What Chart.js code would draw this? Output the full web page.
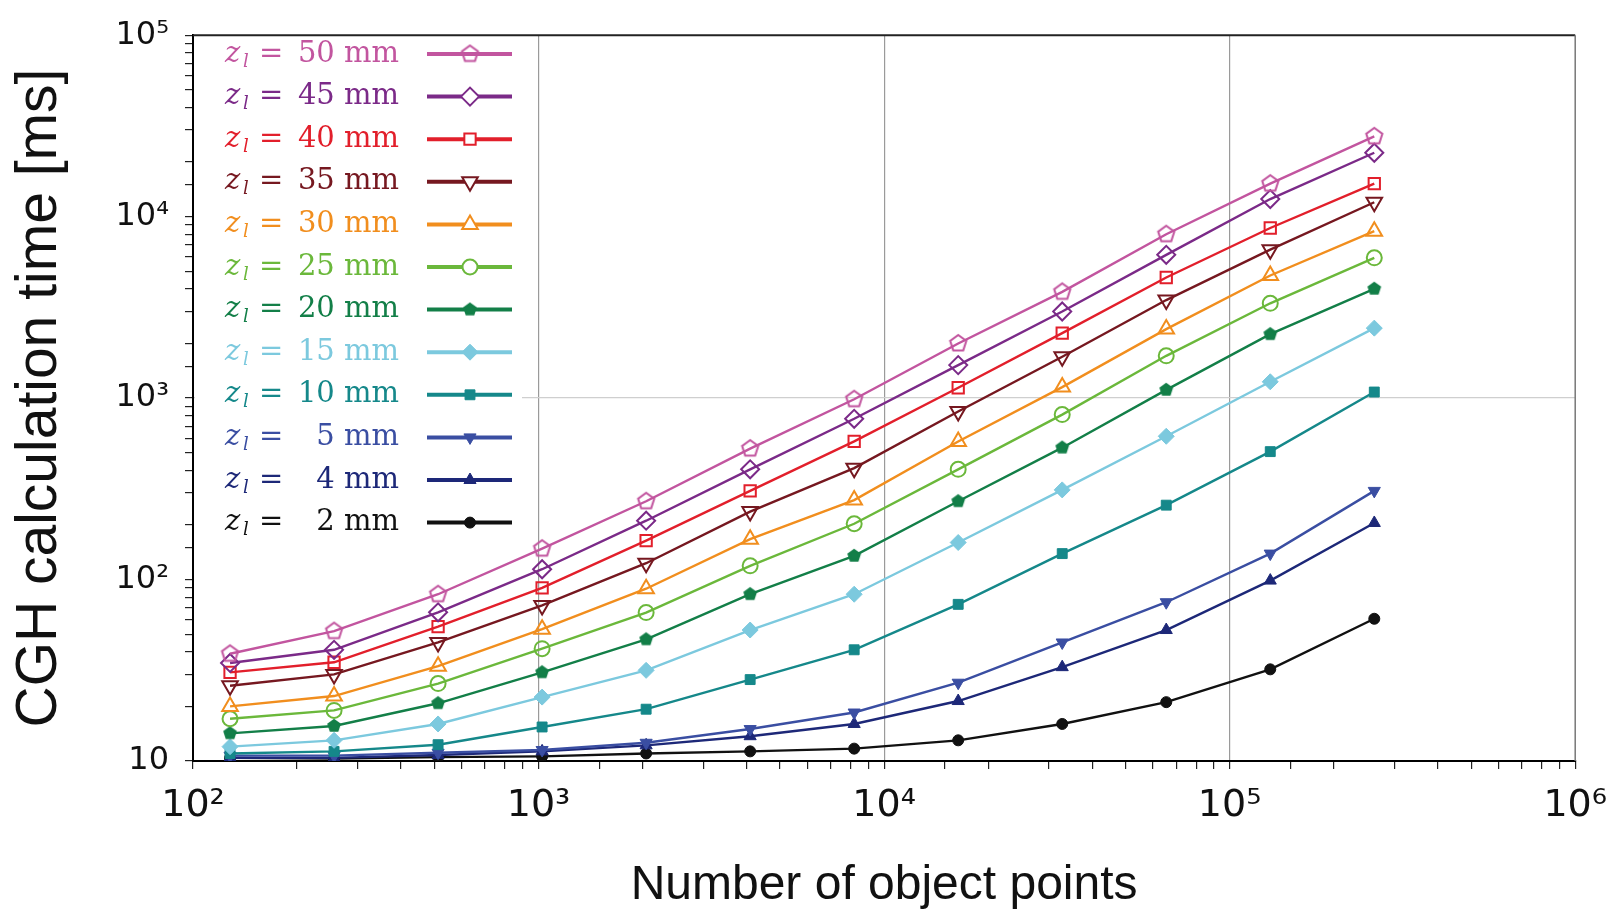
<!DOCTYPE html>
<html>
<head>
<meta charset="utf-8">
<script src="https://cdn.jsdelivr.net/npm/chart.js@4"></script>
<style>
  html, body { margin: 0; padding: 0; background: #fff; }
  #wrap { width: 1621px; height: 919px; position: relative; }
</style>
</head>
<body>
<div id="wrap"><canvas id="cghChart"></canvas></div>
<script>
// number of object points (x)
const POINTS = [128, 256, 512, 1024, 2048, 4096, 8192, 16384, 32768, 65536, 131072, 262144];

// calculation time [ms] per z_l
const T50 = [39, 52, 83, 148, 270, 527, 986, 2000, 3850, 8000, 15200, 27700];
const T45 = [34.7, 41, 66, 114, 211, 405, 769, 1520, 3000, 6160, 12500, 22500];
const T40 = [30.8, 35, 55, 90, 164, 308, 577, 1140, 2280, 4620, 8660, 15200];
const T35 = [26, 30, 45, 72, 123, 237, 411, 843, 1690, 3470, 6580, 12000];
const T30 = [20, 22.8, 33.3, 53.3, 89, 167, 274, 577, 1150, 2400, 4740, 8320];
const T25 = [17.1, 19, 26.7, 41.6, 65.8, 119, 203, 405, 811, 1710, 3330, 5930];
const T20 = [14.2, 15.6, 20.8, 30.8, 46.8, 83, 135, 270, 533, 1110, 2250, 4000];
const T15 = [12, 13, 16, 22.5, 31.6, 52.7, 83, 160, 312, 616, 1230, 2430];
const T10 = [11, 11.3, 12.3, 15.4, 19.3, 28.1, 41, 73, 139, 257, 507, 1080];
const T5 = [10.7, 10.7, 11.1, 11.5, 12.6, 15, 18.5, 27, 45, 75, 139, 308];
const T4 = [10.4, 10.4, 10.8, 11.3, 12.2, 13.7, 16, 21.4, 32.9, 52.7, 98.7, 205];
const T2 = [10.4, 10.3, 10.5, 10.6, 11, 11.3, 11.7, 13, 16, 21.1, 32, 60.8];

const ZL = ["50", "45", "40", "35", "30", "25", "20", "15", "10", "5", "4", "2"];

const SUP = { "2": "\u00b2", "3": "\u00b3", "4": "\u2074", "5": "\u2075", "6": "\u2076" };

function pentagon(color, filled, r) {
    var c = document.createElement("canvas");
    var s = Math.ceil(r * 2 + 4);
    c.width = s; c.height = s;
    var g = c.getContext("2d");
    g.beginPath();
    for (var k = 0; k < 5; k++) {
        var a = -Math.PI / 2 + k * 2 * Math.PI / 5;
        var px = s / 2 + r * Math.cos(a), py = s / 2 + r * Math.sin(a);
        if (k == 0) g.moveTo(px, py); else g.lineTo(px, py);
    }
    g.closePath();
    if (filled) { g.fillStyle = color; g.fill(); }
    g.lineWidth = 2;
    g.strokeStyle = color;
    g.stroke();
    return c;
}

const STYLE = [
    { color: "#c2559f", marker: pentagon("#c2559f", false, 8.5), radius: 9, open: true },
    { color: "#7b2a88", marker: "rectRot", radius: 9, open: true },
    { color: "#e21f2b", marker: "rect", radius: 8, open: true },
    { color: "#761820", marker: "triangle", rotation: 180, radius: 9, open: true },
    { color: "#f18e1e", marker: "triangle", radius: 9, open: true },
    { color: "#6bb83b", marker: "circle", radius: 7.5, open: true },
    { color: "#137f48", marker: pentagon("#137f48", true, 6), radius: 6, open: false },
    { color: "#7cc9de", marker: "rectRot", radius: 8, open: false },
    { color: "#15888a", marker: "rect", radius: 7, open: false },
    { color: "#3a4ea2", marker: "triangle", rotation: 180, radius: 7, open: false },
    { color: "#1d2878", marker: "triangle", radius: 7, open: false },
    { color: "#111111", marker: "circle", radius: 5.5, open: false }
];

const SERIES = [T50, T45, T40, T35, T30, T25, T20, T15, T10, T5, T4, T2];

const datasets = SERIES.map(function (vals, i) {
    var st = STYLE[i];
    return {
        label: "z_l = " + ZL[i] + " mm",
        data: POINTS.map(function (x, j) { return { x: x, y: vals[j] }; }),
        borderColor: st.color,
        backgroundColor: st.open ? "rgba(255,255,255,0)" : st.color,
        borderWidth: 2.4,
        pointStyle: st.marker,
        pointRotation: st.rotation || 0,
        pointRadius: st.radius,
        pointBorderWidth: st.open ? 2 : 1,
        pointBackgroundColor: st.open ? "rgba(255,255,255,0)" : st.color,
        pointBorderColor: st.color,
        tension: 0
    };
});

function powLabel(v, plainTen) {
    var e = Math.round(Math.log10(v));
    if (Math.abs(Math.log10(v) - e) > 1e-6) return "";
    if (e == 1 && plainTen) return "10";
    return "10" + (SUP[String(e)] || "");
}

// legend inside the plot, text first then line sample
const insideLegend = {
    id: "insideLegend",
    afterDatasetsDraw: function (chart) {
        var ctx = chart.ctx;
        var area = chart.chartArea;
        ctx.save();
        ctx.fillStyle = "#fff";
        ctx.fillRect(area.left + 2, area.top + 2, 520 - area.left, 500);
        for (var i = 0; i < ZL.length; i++) {
            var st = STYLE[i];
            var y = 54 + i * 42.6;
            ctx.fillStyle = st.color;
            ctx.textBaseline = "middle";
            ctx.textAlign = "left";
            ctx.font = "italic 29px 'DejaVu Serif'";
            ctx.fillText("z", 225, y);
            ctx.font = "italic 18px 'DejaVu Serif'";
            ctx.fillText("l", 243, y + 8);
            ctx.font = "29px 'DejaVu Serif'";
            ctx.fillText("=", 259, y);
            ctx.textAlign = "right";
            ctx.fillText(ZL[i] + " mm", 399, y);
            ctx.strokeStyle = st.color;
            ctx.lineWidth = 4;
            ctx.beginPath();
            ctx.moveTo(427, y);
            ctx.lineTo(512, y);
            ctx.stroke();
            ctx.fillStyle = st.open ? "#fff" : st.color;
            ctx.lineWidth = st.open ? 2 : 1;
            Chart.helpers.drawPoint(ctx, {
                pointStyle: st.marker,
                rotation: st.rotation || 0,
                radius: st.radius,
                borderWidth: st.open ? 2 : 1
            }, 470, y);
        }
        ctx.restore();
    },
    afterDraw: function (chart) {
        var ctx = chart.ctx;
        var area = chart.chartArea;
        ctx.save();
        ctx.strokeStyle = "#222";
        ctx.lineWidth = 2;
        ctx.beginPath();
        ctx.moveTo(area.left, area.top);
        ctx.lineTo(area.right, area.top);
        ctx.stroke();
        ctx.strokeStyle = "#777";
        ctx.lineWidth = 1.5;
        ctx.beginPath();
        ctx.moveTo(area.right, area.top);
        ctx.lineTo(area.right, area.bottom);
        ctx.stroke();
        ctx.restore();
    }
};

const ctx = document.getElementById("cghChart");
new Chart(ctx, {
    type: "line",
    data: { datasets: datasets },
    options: {
        responsive: true,
        maintainAspectRatio: false,
        animation: false,
        layout: { padding: { top: 33, right: 38, left: 0, bottom: 0 } },
        plugins: {
            legend: { display: false },
            tooltip: { enabled: false }
        },
        scales: {
            x: {
                type: "logarithmic",
                min: 100,
                max: 1000000,
                afterFit: function (scale) { scale.height = 158; },
                border: { color: "#000", width: 2 },
                grid: {
                    color: function (c) {
                        var v = c.tick && c.tick.value;
                        return (v == 1000 || v == 10000 || v == 100000) ? "#9a9a9a" : "rgba(0,0,0,0)";
                    },
                    tickColor: "#222",
                    tickLength: 8,
                    lineWidth: 1.2
                },
                ticks: {
                    autoSkip: false,
                    maxRotation: 0,
                    padding: 14,
                    color: "#111",
                    font: { family: "'DejaVu Sans', 'Liberation Sans', sans-serif", size: 38 },
                    callback: function (v) { return powLabel(v, false); }
                },
                title: {
                    display: true,
                    text: "Number of object points",
                    color: "#111",
                    font: { family: "'Liberation Sans', Arial, sans-serif", size: 48 },
                    padding: { top: 0, bottom: 4 }
                }
            },
            y: {
                type: "logarithmic",
                min: 10,
                max: 100000,
                afterFit: function (scale) { scale.width = 193; },
                border: { color: "#000", width: 2 },
                grid: {
                    color: function (c) {
                        var v = c.tick && c.tick.value;
                        return v == 1000 ? "#cfcfcf" : "rgba(0,0,0,0)";
                    },
                    tickColor: "#222",
                    tickLength: 8,
                    lineWidth: 1.2
                },
                ticks: {
                    autoSkip: false,
                    padding: 16,
                    color: "#111",
                    font: { family: "'DejaVu Sans', 'Liberation Sans', sans-serif", size: 32 },
                    callback: function (v) { return powLabel(v, true); }
                },
                title: {
                    display: true,
                    text: "CGH calculation time [ms]",
                    color: "#111",
                    font: { family: "'Liberation Sans', Arial, sans-serif", size: 57 },
                    padding: { top: 6, bottom: 0 }
                }
            }
        }
    },
    plugins: [insideLegend]
});
</script>
</body>
</html>
